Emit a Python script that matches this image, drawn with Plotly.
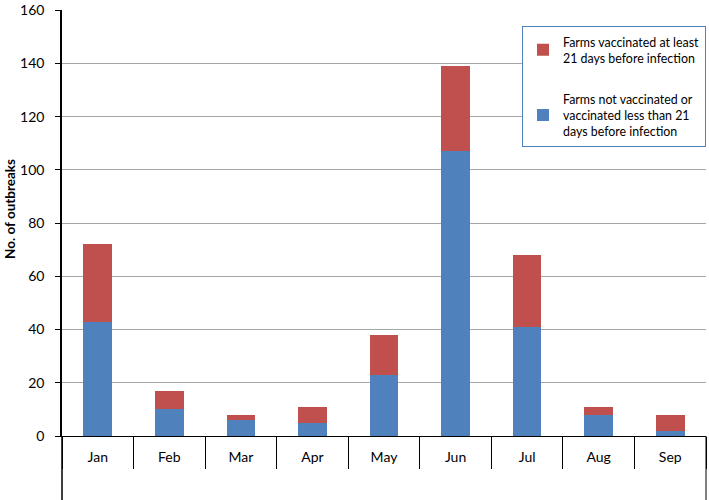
import plotly.graph_objects as go

months = ["Jan", "Feb", "Mar", "Apr", "May", "Jun", "Jul", "Aug", "Sep"]
not_vaccinated = [43, 10, 6, 5, 23, 107, 41, 8, 2]
vaccinated = [29, 7, 2, 6, 15, 32, 27, 3, 6]
y_ticks = [0, 20, 40, 60, 80, 100, 120, 140, 160]

name_vacc = "Farms vaccinated at least<br>21 days before infection"
name_not = "Farms not vaccinated or<br>vaccinated less than 21<br>days before infection"
y_title = "<b>No. of outbreaks</b>"

FONT = "Lato"

fig = go.Figure()
fig.add_trace(go.Bar(x=months, y=not_vaccinated, name=name_not,
                     marker=dict(color="#4F81BD", line=dict(width=0)),
                     width=0.4, legendgroup="b", legendrank=2))
fig.add_trace(go.Bar(x=months, y=vaccinated, name=name_vacc,
                     marker=dict(color="#C0504D", line=dict(width=0)),
                     width=0.4, legendgroup="a", legendrank=1))

H_PLOT = 426
W_PLOT = 644
fig.update_layout(
    width=709, height=500,
    barmode="stack",
    plot_bgcolor="white", paper_bgcolor="white",
    margin=dict(l=62, r=3, t=10, b=64, autoexpand=False),
    font=dict(family=FONT, size=13, color="#000000"),
    showlegend=True,
    legend=dict(
        x=1.0, y=0.962, xanchor="right", yanchor="top",
        bgcolor="white", bordercolor="#4F81BD", borderwidth=1,
        traceorder="grouped", tracegroupgap=22,
        font=dict(family=FONT, size=12.4, color="#000000"),
        itemwidth=30,
    ),
    xaxis=dict(
        type="category", range=[-0.5, 8.5], automargin=False,
        showline=True, linecolor="#000000", linewidth=1,
        tickson="boundaries", ticks="outside", ticklen=32, tickcolor="#000000", tickwidth=1,
        ticklabelstandoff=8,
        showgrid=False, zeroline=False,
        tickfont=dict(family=FONT, size=14),
    ),
    yaxis=dict(
        range=[0, 160.05], tickmode="array", tickvals=y_ticks, automargin=False,
        showline=True, linecolor="#000000", linewidth=1.5,
        ticks="outside", ticklen=5, tickcolor="#000000",
        ticklabelstandoff=8,
        showgrid=True, gridcolor="#A6A6A6", gridwidth=1,
        zeroline=False,
        tickfont=dict(family=FONT, size=14),
    ),
    annotations=[
        dict(text=y_title, textangle=-90, xref="paper", yref="paper",
             x=-52 / W_PLOT, y=(436 - 209) / H_PLOT, xanchor="center", yanchor="middle",
             showarrow=False, font=dict(family=FONT, size=13.5, color="#000000")),
    ],
    shapes=[
        dict(type="line", xref="paper", yref="paper", x0=0, x1=0, y0=0, y1=-64 / H_PLOT,
             line=dict(color="#000000", width=1.5)),
        dict(type="line", xref="paper", yref="paper", x0=1, x1=1, y0=0, y1=-64 / H_PLOT,
             line=dict(color="#000000", width=1)),
    ],
)

fig.write_html("out.html", config={"displayModeBar": False},
               post_script="document.body.style.margin='0';")
